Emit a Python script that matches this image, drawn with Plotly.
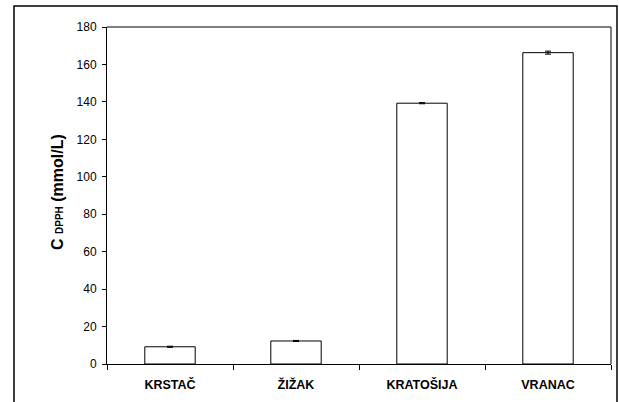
import plotly.graph_objects as go

categories = ["KRSTAČ", "ŽIŽAK", "KRATOŠIJA", "VRANAC"]
values = [9.2, 12.3, 139.3, 166.3]
errors = [0.3, 0.3, 0.3, 0.8]
y_ticks = [0, 20, 40, 60, 80, 100, 120, 140, 160, 180]

W, H = 619, 402
L, R, T, B = 107, 8, 27, 38
pw, ph = W - L - R, H - T - B

def px_x(x):
    return (x - L) / pw

def px_y(y):
    return (H - B - y) / ph

fig = go.Figure(go.Bar(
    x=categories, y=values,
    marker=dict(color="white", line=dict(color="black", width=1)),
    error_y=dict(type="data", array=errors, visible=True, color="black", thickness=1, width=3),
    width=0.4,
))

fig.update_layout(
    width=W, height=H,
    margin=dict(l=L, r=R, t=T, b=B),
    paper_bgcolor="white", plot_bgcolor="white",
    showlegend=False,
    font=dict(family="Arial, Liberation Sans, sans-serif", color="black", size=12),
    xaxis=dict(
        showline=True, linecolor="black", linewidth=1,
        ticks="outside", tickson="boundaries", ticklen=5, tickcolor="black",
        showgrid=False, tickfont=dict(size=12.5),
        ticklabelstandoff=9,
        tickvals=categories,
        ticktext=["<b>%s</b>" % c for c in categories],
    ),
    yaxis=dict(
        range=[0, 180], tickvals=y_ticks, ticktext=[str(v) for v in y_ticks],
        showline=True, linecolor="black", linewidth=1,
        ticks="outside", ticklen=4, tickcolor="black",
        showgrid=False, zeroline=False, tickfont=dict(size=12),
        ticklabelstandoff=3,
    ),
    shapes=[
        # outer border
        dict(type="rect", xref="paper", yref="paper",
             x0=px_x(14), x1=px_x(617), y0=px_y(406), y1=px_y(6),
             line=dict(color="black", width=1.5), layer="below"),
        # plot frame top and right
        dict(type="line", xref="paper", yref="paper", x0=0, x1=1, y0=1, y1=1,
             line=dict(color="#555555", width=1.5)),
        dict(type="line", xref="paper", yref="paper", x0=1, x1=1, y0=0, y1=1,
             line=dict(color="#555555", width=1.5)),
    ],
    annotations=[
        dict(xref="paper", yref="paper", x=px_x(57), y=px_y(192),
             text="<b><span style='font-size:16px'>C</span> <span style='font-size:10px'>DPPH</span> (mmol/L)</b>",
             textangle=-90, showarrow=False, font=dict(size=16),
             xanchor="center", yanchor="middle"),
    ],
)

fig.write_html("out.html", config={"displayModeBar": False},
               post_script="document.body.style.margin='0';document.body.style.overflow='hidden';")
